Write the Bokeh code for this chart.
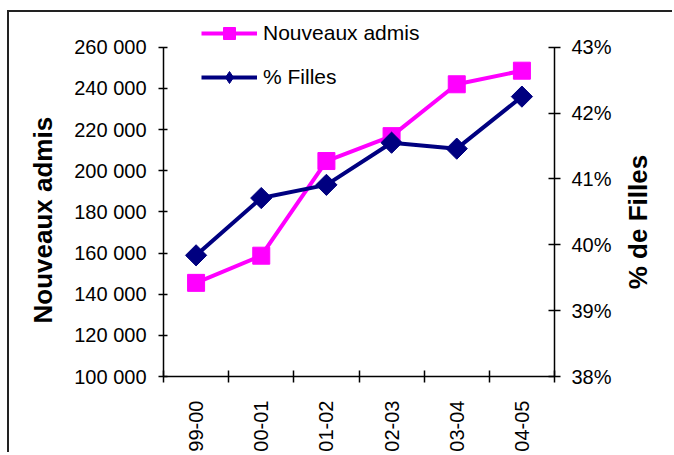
import math
from bokeh.plotting import figure
from bokeh.models import (Range1d, LinearAxis, FixedTicker, Legend, LegendItem, Title)
from bokeh.embed import file_html
from bokeh.resources import INLINE

# ---- data ----
categories = ["99-00", "00-01", "01-02", "02-03", "03-04", "04-05"]
nouveaux_admis = [145500, 158700, 204700, 216800, 242000, 248600]
pct_filles = [39.84, 40.71, 40.91, 41.55, 41.46, 42.25]

left_ticks = [100000, 120000, 140000, 160000, 180000, 200000, 220000, 240000, 260000]
left_tick_labels = ["100 000", "120 000", "140 000", "160 000", "180 000",
                    "200 000", "220 000", "240 000", "260 000"]
right_ticks = [38, 39, 40, 41, 42, 43]
right_tick_labels = ["38%", "39%", "40%", "41%", "42%", "43%"]

left_title = "Nouveaux admis"
right_title = "% de Filles"

PINK = "#FF00FF"
NAVY = "#000080"
FONT = "Liberation Sans"
TICK_FS = "20px"

# layout (pixels): axes span AXIS_PX, frame extends TOP_PAD_PX above them for the legend
AXIS_PX = 332
TOP_PAD_PX = 33


def padded(lo, hi):
    return Range1d(lo, hi + (hi - lo) * TOP_PAD_PX / AXIS_PX)


xs = list(range(len(categories)))

p = figure(width=665, height=442, output_backend="svg", toolbar_location=None,
           x_range=Range1d(-0.5, len(categories) - 0.5),
           y_range=padded(left_ticks[0], left_ticks[-1]),
           min_border_left=154, min_border_right=120,
           min_border_top=2, min_border_bottom=75,
           background_fill_color="white", border_fill_color="white")
p.styles = {"margin-left": "7px", "margin-top": "10px",
            "border-top": "2px solid #222", "border-left": "2px solid #222"}
p.outline_line_color = None
p.xgrid.visible = False
p.ygrid.visible = False

p.extra_y_ranges = {"pct": padded(right_ticks[0], right_ticks[-1])}

# bottom axis: labels at category centres, tick marks between categories
xa = p.xaxis[0]
xa.ticker = FixedTicker(ticks=xs, minor_ticks=[i - 0.5 for i in range(len(categories) + 1)])
xa.major_label_overrides = {i: c for i, c in enumerate(categories)}
xa.major_tick_in = 0
xa.major_tick_out = 0
xa.minor_tick_in = 6
xa.minor_tick_out = 6
xa.minor_tick_line_color = "black"
xa.minor_tick_line_width = 1.5
xa.axis_line_color = "black"
xa.axis_line_width = 1.5
xa.major_label_orientation = math.pi / 2
xa.major_label_standoff = 18
xa.major_label_text_font = FONT
xa.major_label_text_font_size = TICK_FS
xa.major_label_text_color = "black"

# left axis
ya = p.yaxis[0]
ya.bounds = (left_ticks[0], left_ticks[-1])
ya.ticker = FixedTicker(ticks=left_ticks)
ya.major_label_overrides = {t: l for t, l in zip(left_ticks, left_tick_labels)}
ya.minor_tick_line_color = None
ya.major_tick_in = 4
ya.major_tick_out = 5
ya.major_tick_line_width = 1.5
ya.axis_line_width = 1.5
ya.major_label_standoff = 12
ya.major_label_text_font = FONT
ya.major_label_text_font_size = TICK_FS
ya.major_label_text_color = "black"

# right axis
ra = LinearAxis(y_range_name="pct", bounds=(right_ticks[0], right_ticks[-1]))
ra.ticker = FixedTicker(ticks=right_ticks)
ra.major_label_overrides = {t: l for t, l in zip(right_ticks, right_tick_labels)}
ra.minor_tick_line_color = None
ra.major_tick_in = 6
ra.major_tick_out = 6
ra.major_tick_line_width = 1.5
ra.axis_line_width = 1.5
ra.major_label_standoff = 11
ra.major_label_text_font = FONT
ra.major_label_text_font_size = TICK_FS
ra.major_label_text_color = "black"
p.add_layout(ra, "right")

# right title (reads bottom-to-top), carried by a bare axis placed beside the % axis
RIGHT_TITLE_START = 39.325   # % level where the rotated title begins
rt = LinearAxis(y_range_name="pct", ticker=FixedTicker(ticks=[RIGHT_TITLE_START]))
rt.major_label_overrides = {RIGHT_TITLE_START: right_title}
rt.major_label_orientation = math.pi / 2
rt.axis_line_color = None
rt.major_tick_line_color = None
rt.minor_tick_line_color = None
rt.major_tick_in = 0
rt.major_tick_out = 0
rt.major_label_standoff = 24
rt.major_label_text_font = FONT
rt.major_label_text_font_style = "bold"
rt.major_label_text_font_size = "26px"
rt.major_label_text_color = "black"
p.add_layout(rt, "right")

# left title (reads bottom-to-top), starting OFFSET px above the frame bottom
p.add_layout(Title(text=left_title, align="left", offset=53, standoff=27,
                   text_font=FONT, text_font_style="bold", text_font_size="26px",
                   text_color="black"), "left")

# series
pl = p.line(xs, nouveaux_admis, line_color=PINK, line_width=4)
ps = p.scatter(xs, nouveaux_admis, marker="square", size=17,
               fill_color=PINK, line_color=PINK)
nl = p.line(xs, pct_filles, line_color=NAVY, line_width=4, y_range_name="pct")
# diamond used for the legend swatch (hidden under the larger diamonds drawn next)
nd = p.scatter(xs, pct_filles, marker="diamond", size=14, fill_color=NAVY,
               line_color=NAVY, y_range_name="pct")
ns = p.scatter(xs, pct_filles, marker="square", size=15, angle=math.pi / 4,
               fill_color=NAVY, line_color=NAVY, y_range_name="pct")

legend = Legend(items=[LegendItem(label="Nouveaux admis", renderers=[pl, ps]),
                       LegendItem(label="% Filles", renderers=[nl, nd])],
                location=(38, 284))
legend.border_line_alpha = 0
legend.background_fill_alpha = 0
legend.padding = 0
legend.margin = 0
legend.glyph_width = 56
legend.glyph_height = 30
legend.label_height = 30
legend.spacing = 14
legend.label_standoff = 6
legend.label_text_font = FONT
legend.label_text_font_size = "21px"
legend.label_text_color = "black"
p.add_layout(legend, "center")

open("out.html", "w").write(file_html(p, INLINE))
